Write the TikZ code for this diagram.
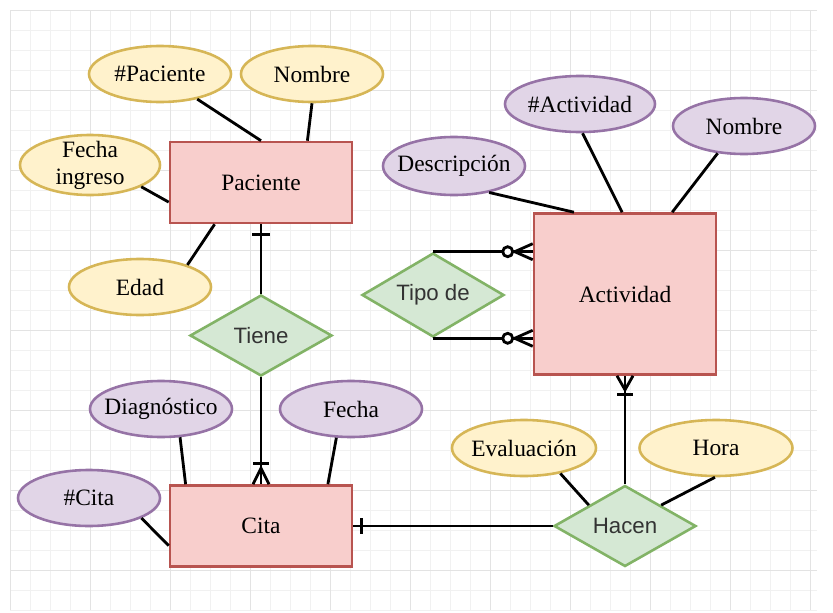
\documentclass[tikz,border=0pt]{standalone}
\usepackage{fontspec}
\setmainfont{Liberation Serif}
\setsansfont{Liberation Sans}
\usetikzlibrary{calc}
\usetikzlibrary{shapes.geometric}
\definecolor{entfill}{HTML}{F8CECC}
\definecolor{entdraw}{HTML}{B85450}
\definecolor{yelfill}{HTML}{FFF2CC}
\definecolor{yeldraw}{HTML}{D6B656}
\definecolor{purfill}{HTML}{E1D5E7}
\definecolor{purdraw}{HTML}{9673A6}
\definecolor{grnfill}{HTML}{D5E8D4}
\definecolor{grndraw}{HTML}{82B366}
\definecolor{gridminor}{HTML}{F1F1F1}
\definecolor{gridmajor}{HTML}{E3E3E3}
\tikzset{
	entitystyle/.style={rectangle,draw=entdraw,fill=entfill,line width=2.2pt,minimum width=5.46cm,minimum height=2.43cm,font=\fontsize{20}{23}\selectfont},
	yellowstyle/.style={ellipse,draw=yeldraw,fill=yelfill,line width=2.2pt,inner xsep=-1cm,inner ysep=-0.4cm,minimum width=4.26cm,minimum height=1.68cm,align=center,font=\fontsize{20}{23}\selectfont},
	purplestyle/.style={ellipse,draw=purdraw,fill=purfill,line width=2.2pt,inner xsep=-1cm,inner ysep=-0.4cm,minimum width=4.26cm,minimum height=1.68cm,font=\fontsize{20}{23}\selectfont},
	relstyle/.style={diamond,aspect=1.75,draw=grndraw,fill=grnfill,line width=2.2pt,inner sep=0pt,minimum width=4.26cm,minimum height=2.43cm,text=black!80,font=\sffamily\fontsize{19}{22}\selectfont},
	linkstyle/.style={line width=2.4pt,black},
	markstyle/.style={line width=2.4pt,black}
}
\begin{document}
\begin{tikzpicture}[x=0.03cm,y=-0.03cm]
		\useasboundingbox (0,0) rectangle (833,613);
		\fill[white] (0,0) rectangle (833,613);
		\foreach \gx in {10,30,...,810} \draw[gridminor,line width=0.8pt] (\gx,10) -- (\gx,610);
		\foreach \gy in {10,30,...,610} \draw[gridminor,line width=0.8pt] (10,\gy) -- (817,\gy);
		\foreach \gx in {10,90,...,810} \draw[gridmajor,line width=0.8pt] (\gx,10) -- (\gx,610);
		\foreach \gy in {10,90,...,570} \draw[gridmajor,line width=0.8pt] (10,\gy) -- (817,\gy);
		\node[entitystyle] (pac) at (261,182.5) {Paciente};
		\node[entitystyle] (cita) at (261,526) {Cita};
		\node[entitystyle,minimum height=4.83cm] (act) at (625,294) {Actividad};
		\node[yellowstyle] (npac) at (160,74) {\#Paciente};
		\node[yellowstyle] (nompac) at (312,74) {Nombre};
		\node[yellowstyle,minimum height=1.8cm,minimum width=4.2cm] (fing) at (90,165) {Fecha\\ingreso};
		\node[yellowstyle] (edad) at (140,287) {Edad};
		\node[yellowstyle,minimum width=4.32cm] (eval) at (524,448) {Evaluación};
		\node[yellowstyle,minimum width=4.59cm] (hora) at (716,448) {Hora};
		\node[purplestyle] (diag) at (161,409) {Diagnóstico};
		\node[purplestyle] (fcita) at (351,409) {Fecha};
		\node[purplestyle] (ncita) at (89,498) {\#Cita};
		\node[purplestyle,minimum width=4.5cm] (nact) at (580,104) {\#Actividad};
		\node[purplestyle] (nomact) at (744,126) {Nombre};
		\node[purplestyle,minimum height=1.74cm] (desc) at (454,166) {Descripción};
		\node[relstyle] (tiene) at (261,335.5) {Tiene};
		\node[relstyle,minimum height=2.52cm] (tipo) at (433,295) {Tipo de};
		\node[relstyle] (hacen) at (625,526) {Hacen};
		\coordinate (t1) at (tipo.north -| act.west);
		\coordinate (t2) at (tipo.south -| act.west);
		\coordinate (h1) at (hacen.west -| cita.east);
		\draw[linkstyle] (npac.-34) -- (pac.north);
		\draw[linkstyle] (nompac.south) -- (pac.42);
		\draw[linkstyle] (fing.-23) -- (pac.192);
		\draw[linkstyle] (edad.25) -- (pac.222);
		\draw[linkstyle] (diag.-56) -- (cita.151);
		\draw[linkstyle] (fcita.-117) -- (cita.32);
		\draw[linkstyle] (ncita.-21) -- (cita.192);
		\draw[linkstyle] (eval.-35) -- (hacen.150);
		\draw[linkstyle] (hora.-92) -- (hacen.30);
		\draw[linkstyle] (desc.-37) -- (act.122);
		\draw[linkstyle] (nact.-85) -- (act.92);
		\draw[linkstyle] (nomact.226) -- (act.60);
		\draw[linkstyle] (pac.south) -- (tiene.north);
		\draw[linkstyle] (tiene.south) -- (cita.north);
		\draw[linkstyle] (hacen.west) -- (h1);
		\draw[linkstyle] (hacen.north) -- (act.south);
		\draw[linkstyle] (tipo.north) -- (t1);
		\draw[linkstyle] (tipo.south) -- (t2);
		\draw[markstyle] ($(pac.south)+(-9,10)$) -- ($(pac.south)+(9,10)$);
		\draw[markstyle] ($(cita.north)+(-8,0)$) -- ($(cita.north)+(0,-16)$) -- ($(cita.north)+(8,0)$);
		\draw[markstyle] ($(cita.north)+(-8,-21)$) -- ($(cita.north)+(8,-21)$);
		\draw[markstyle] ($(h1)+(8,-8)$) -- ($(h1)+(8,8)$);
		\draw[markstyle] ($(act.south)+(-8,0)$) -- ($(act.south)+(0,14)$) -- ($(act.south)+(8,0)$);
		\draw[markstyle] ($(act.south)+(-8,19)$) -- ($(act.south)+(8,19)$);
		\draw[markstyle] ($(t1)+(0,-8)$) -- ($(t1)+(-18,0)$) -- ($(t1)+(0,8)$);
		\draw[markstyle,fill=white] ($(t1)+(-25,0)$) circle[radius=5];
		\draw[markstyle] ($(t2)+(0,-8)$) -- ($(t2)+(-18,0)$) -- ($(t2)+(0,8)$);
		\draw[markstyle,fill=white] ($(t2)+(-25,0)$) circle[radius=5];
\end{tikzpicture}
\end{document}
